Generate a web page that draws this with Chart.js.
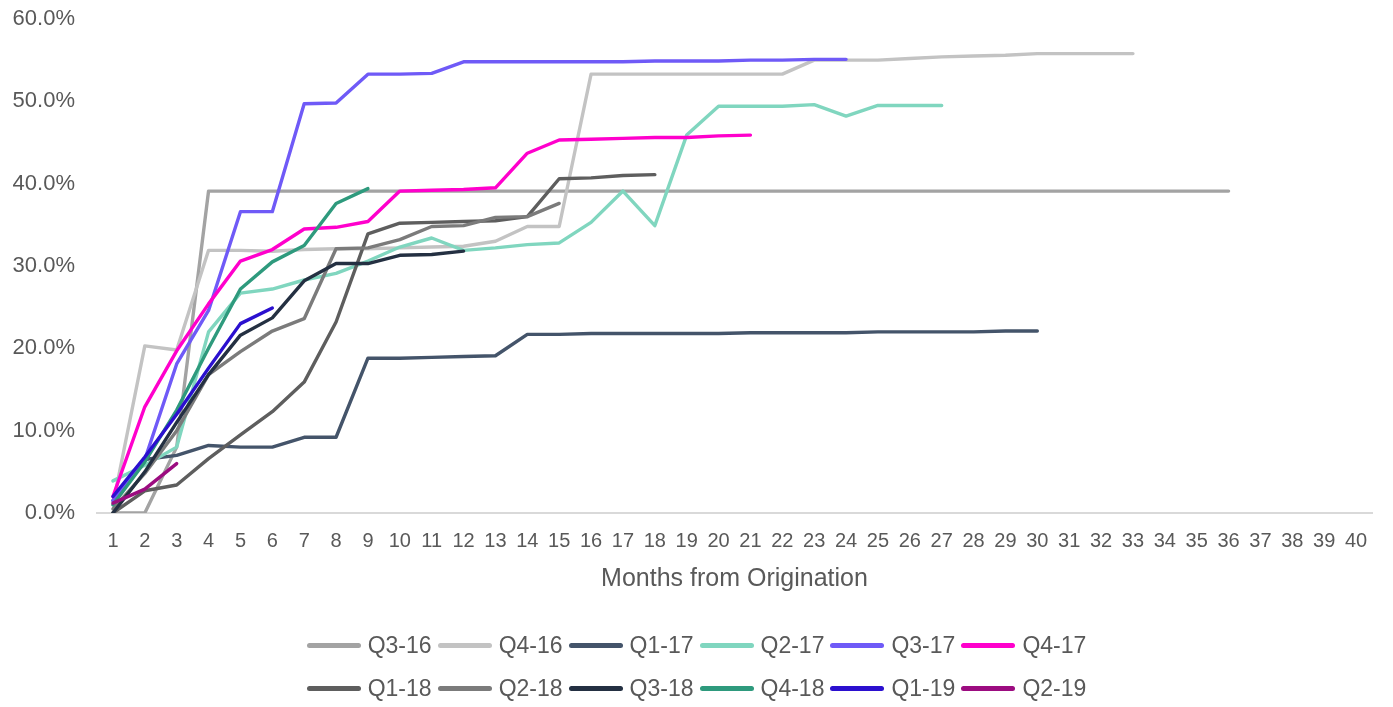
<!DOCTYPE html>
<html>
<head>
<meta charset="utf-8">
<script src="https://cdn.jsdelivr.net/npm/chart.js@4/dist/chart.umd.min.js"></script>
<style>
  html, body { margin: 0; padding: 0; background: #fff; }
  #wrap { position: relative; width: 1393px; height: 707px; overflow: hidden; font-family: "Liberation Sans", Arial, sans-serif; }
  #chart { position: absolute; left: 0; top: 0; }
  #legend { position: absolute; left: 0; top: 624px; width: 1393px; }
  .row { display: flex; justify-content: center; height: 43px; align-items: center; }
  .item { display: flex; align-items: center; margin: 0 3px; color: #595959; font-size: 23px; }
  .sw { width: 54px; height: 5px; border-radius: 3px; margin-right: 7px; }
</style>
</head>
<body>
<div id="wrap">
  <canvas id="chart" width="1393" height="707"></canvas>
  <div id="legend"></div>
</div>
<script>
// ---- data (percent) ----
const months = ["1","2","3","4","5","6","7","8","9","10","11","12","13","14","15","16","17","18","19","20",
                "21","22","23","24","25","26","27","28","29","30","31","32","33","34","35","36","37","38","39","40"];
const seriesNames = ["Q3-16","Q4-16","Q1-17","Q2-17","Q3-17","Q4-17","Q1-18","Q2-18","Q3-18","Q4-18","Q1-19","Q2-19"];
const q3_16 = [0.0,0.0,8.0,39.1,39.1,39.1,39.1,39.1,39.1,39.1,39.1,39.1,39.1,39.1,39.1,39.1,39.1,39.1,39.1,39.1,39.1,39.1,39.1,39.1,39.1,39.1,39.1,39.1,39.1,39.1,39.1,39.1,39.1,39.1,39.1,39.1];
const q4_16 = [1.0,20.3,19.8,31.9,31.9,31.8,32.0,32.1,32.1,32.2,32.3,32.4,33.0,34.8,34.8,53.3,53.3,53.3,53.3,53.3,53.3,53.3,55.0,55.0,55.0,55.2,55.4,55.5,55.6,55.8,55.8,55.8,55.8];
const q1_17 = [1.5,6.5,7.0,8.2,8.0,8.0,9.2,9.2,18.8,18.8,18.9,19.0,19.1,21.7,21.7,21.8,21.8,21.8,21.8,21.8,21.9,21.9,21.9,21.9,22.0,22.0,22.0,22.0,22.1,22.1];
const q2_17 = [3.9,5.8,8.0,22.0,26.7,27.2,28.3,29.1,30.6,32.3,33.4,31.9,32.2,32.6,32.8,35.3,39.1,34.9,45.9,49.4,49.4,49.4,49.6,48.2,49.5,49.5,49.5];
const q3_17 = [1.5,6.5,18.1,24.6,36.6,36.6,49.7,49.8,53.3,53.3,53.4,54.8,54.8,54.8,54.8,54.8,54.8,54.9,54.9,54.9,55.0,55.0,55.1,55.1];
const q4_17 = [2.0,12.9,19.7,25.4,30.6,32.0,34.5,34.7,35.4,39.1,39.2,39.3,39.5,43.7,45.3,45.4,45.5,45.6,45.6,45.8,45.9];
const q1_18 = [0.0,2.7,3.4,6.6,9.5,12.3,15.9,23.2,33.9,35.2,35.3,35.4,35.5,36.0,40.6,40.7,41.0,41.1];
const q2_18 = [0.5,4.8,10.0,16.8,19.6,22.1,23.6,32.1,32.2,33.2,34.8,34.9,35.9,36.0,37.6];
const q3_18 = [0.0,5.0,11.0,16.8,21.6,23.7,28.2,30.3,30.3,31.3,31.4,31.8];
const q4_18 = [1.0,6.2,12.5,20.0,27.2,30.5,32.5,37.6,39.4];
const q1_19 = [2.0,6.8,12.0,17.6,23.0,24.9];
const q2_19 = [1.2,2.9,6.0];
const yTicks = [0,10,20,30,40,50,60];

const seriesData = [q3_16,q4_16,q1_17,q2_17,q3_17,q4_17,q1_18,q2_18,q3_18,q4_18,q1_19,q2_19];
const colors = ["#A3A3A3","#C3C3C3","#44546A","#80D6BF","#6F5AF7","#FF00CC","#5E5E5E","#7B7B7B","#243042","#2E9A7D","#2B10CF","#9C0C80"];

const n = seriesNames.length;
const datasets = seriesNames.map((name, i) => ({
  label: name,
  data: seriesData[i],
  borderColor: colors[i],
  backgroundColor: colors[i],
  borderWidth: 3.4,
  pointRadius: 0,
  pointHoverRadius: 0,
  tension: 0,
  fill: false,
  borderCapStyle: 'round',
  borderJoinStyle: 'round',
  order: n - i
}));

const textColor = "#595959";
const fontFam = '"Liberation Sans", Arial, sans-serif';

new Chart(document.getElementById('chart'), {
  type: 'line',
  data: { labels: months, datasets },
  options: {
    responsive: false,
    animation: false,
    devicePixelRatio: 1,
    layout: { padding: { left: 0, right: 21, top: 19, bottom: 107 } },
    plugins: { legend: { display: false }, tooltip: { enabled: false } },
    scales: {
      x: {
        type: 'category',
        offset: true,
        grid: { display: false, drawTicks: false },
        border: { display: true, color: '#D9D9D9', width: 2 },
        ticks: { color: textColor, font: { family: fontFam, size: 20 }, padding: 16, maxRotation: 0, autoSkip: false },
        title: { display: true, text: 'Months from Origination', color: textColor, font: { family: fontFam, size: 25 }, padding: { top: 0, bottom: 6 } },
        afterFit: (s) => { s.height = 87; }
      },
      y: {
        min: 0, max: 60,
        afterBuildTicks: (s) => { s.ticks = yTicks.map(v => ({ value: v })); },
        grid: { display: false, drawTicks: false },
        border: { display: false },
        ticks: { color: textColor, font: { family: fontFam, size: 22 }, padding: 22, callback: (v) => Number(v).toFixed(1) + '%' },
        afterFit: (s) => { s.width = 97; s.paddingTop = 0; s.paddingBottom = 0; }
      }
    }
  }
});

// legend (two rows of six, as in the reference)
const legend = document.getElementById('legend');
[seriesNames.slice(0, 6), seriesNames.slice(6)].forEach((rowNames, r) => {
  const row = document.createElement('div');
  row.className = 'row';
  rowNames.forEach((name, j) => {
    const idx = r * 6 + j;
    const it = document.createElement('div');
    it.className = 'item';
    const sw = document.createElement('span');
    sw.className = 'sw';
    sw.style.background = colors[idx];
    const tx = document.createElement('span');
    tx.textContent = name;
    it.appendChild(sw); it.appendChild(tx);
    row.appendChild(it);
  });
  legend.appendChild(row);
});
</script>
</body>
</html>
